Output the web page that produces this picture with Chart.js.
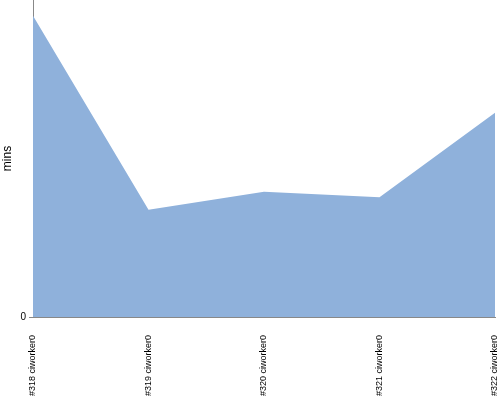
<!DOCTYPE html>
<html>
<head>
<meta charset="utf-8">
<script src="https://cdn.jsdelivr.net/npm/chart.js@4"></script>
<style>
html,body{margin:0;padding:0;background:#fff;}
#wrap{width:500px;height:400px;}
</style>
</head>
<body>
<div id="wrap"><canvas id="c" width="500" height="400"></canvas></div>
<script>
const categories = ["#318 ciworker0", "#319 ciworker0", "#320 ciworker0", "#321 ciworker0", "#322 ciworker0"];
const minsValues = [9.5, 3.38, 3.95, 3.78, 6.44];
const yMax = 10;
const yTickValues = [0];
const yTitle = "mins";

const FONT = "'Liberation Sans', Arial, sans-serif";

new Chart(document.getElementById('c'), {
  type: 'line',
  data: {
    labels: categories,
    datasets: [{
      data: minsValues,
      fill: 'origin',
      backgroundColor: '#8fb1db',
      borderWidth: 0,
      borderColor: 'rgba(0,0,0,0)',
      pointRadius: 0,
      tension: 0
    }]
  },
  options: {
    responsive: false,
    animation: false,
    layout: { padding: { left: 0, right: 5, top: 0, bottom: 0 } },
    plugins: { legend: { display: false }, tooltip: { enabled: false } },
    scales: {
      x: {
        offset: false,
        grid: { display: false },
        border: { display: true, color: '#888888', width: 1 },
        ticks: {
          minRotation: 90, maxRotation: 90, padding: 10,
          color: '#000', font: { family: FONT, size: 9 }
        },
        afterFit: (s) => { s.height = 83; s.paddingLeft = 0; s.paddingRight = 0; }
      },
      y: {
        min: 0, max: yMax,
        grid: { display: true, drawOnChartArea: false, tickLength: 4, color: '#888888' },
        border: { display: true, color: '#888888', width: 1 },
        ticks: { padding: 3, color: '#000', font: { family: FONT, size: 10 } },
        afterBuildTicks: (s) => { s.ticks = yTickValues.map(v => ({ value: v })); },
        title: { display: true, text: yTitle, color: '#000', font: { family: FONT, size: 12 }, padding: 0 },
        afterFit: (s) => { s.width = 33; s.paddingTop = 0; s.paddingBottom = 0; }
      }
    }
  }
});
</script>
</body>
</html>
